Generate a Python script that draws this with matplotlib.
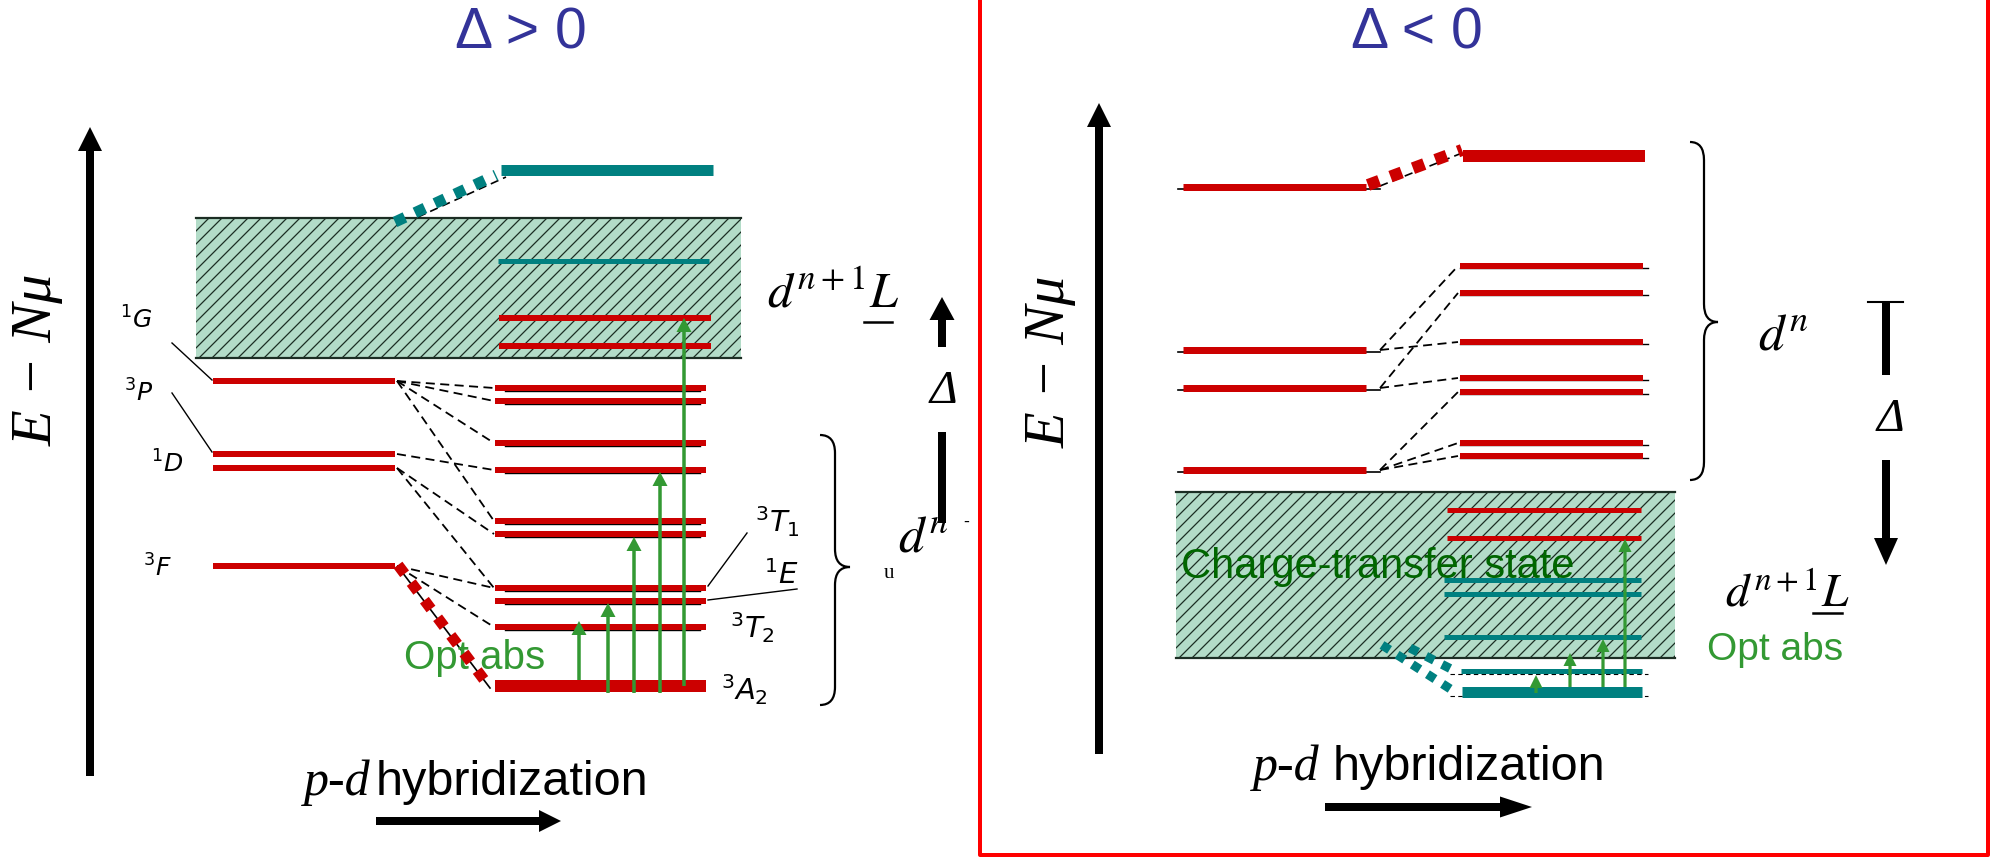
import matplotlib.pyplot as plt
from matplotlib.patches import Rectangle, PathPatch
from matplotlib.path import Path

W, H = 1993, 857

red = '#cc0000'
teal = '#008080'
green = '#339933'
darkgreen = '#006600'
navy = '#333399'
boxfill = '#b3dcc8'
hatchcol = '#1c2e24'

# ---------- left panel (Delta > 0) ----------
term_names = [r'$^{1}G$', r'$^{3}P$', r'$^{1}D$', r'$^{3}F$']
term_y = [381, 454, 468, 566]
term_label_xy = [(136, 320), (139, 393), (167, 464), (157, 568)]
crystal_y = [388, 401, 443, 470, 521, 534, 588, 601, 627]
ground_y = 686
ct_red_y = [318, 346]
ct_teal_y = [261]
top_teal_y = 170
crystal_names = [r'$^{3}T_{1}$', r'$^{1}E$', r'$^{3}T_{2}$', r'$^{3}A_{2}$']
crystal_label_xy = [(777, 522), (781, 575), (752, 628), (744, 690)]
left_links = [(0, 388), (0, 401), (0, 443), (0, 521), (1, 470), (2, 534), (2, 588), (3, 588), (3, 627)]
opt_x_left = [579, 608, 634, 660, 684]
opt_top_left = [621, 603, 537, 472, 318]
opt_base_left = [680, 693, 693, 693, 686]

# ---------- right panel (Delta < 0) ----------
dn_left_y = [187, 350, 388, 470]
dn_right_y = [266, 293, 342, 378, 392, 443, 456]
dn_top_y = 156
r_ct_red_y = [510, 538]
r_ct_teal_y = [580, 594, 637]
r_low_teal_y = [671, 692]
right_links = [(1, 266), (1, 342), (2, 293), (2, 378), (3, 392), (3, 443), (3, 456)]
opt_x_right = [1536, 1570, 1603, 1625]
opt_top_right = [675, 653, 639, 539]
opt_base_right = [693, 687, 687, 687]

PX = 0.72  # pixels -> points at dpi 100

fig = plt.figure(figsize=(W / 100, H / 100), dpi=100)
ax = fig.add_axes([0, 0, 1, 1])
ax.set_xlim(0, W)
ax.set_ylim(H, 0)
ax.axis('off')


def bar(x0, x1, y, lw, color, z=3):
    ax.plot([x0, x1], [y, y], color=color, lw=lw * PX, solid_capstyle='butt', zorder=z)


def dashed(x0, y0, x1, y1):
    ax.plot([x0, x1], [y0, y1], color='black', lw=1.3, ls=(0, (5, 3)), zorder=2)


def dotted(x0, y0, x1, y1, lw, color):
    ax.plot([x0, x1], [y0, y1], color=color, lw=lw * PX, ls=(0, (1, 1)),
            dash_capstyle='butt', zorder=4)


def hatched_box(x0, x1, y0, y1, step=13):
    rect = Rectangle((x0, y0), x1 - x0, y1 - y0, facecolor=boxfill, lw=0, zorder=1)
    ax.add_patch(rect)
    h = y1 - y0
    for s in range(int(x0 - h), int(x1) + step, step):
        ln, = ax.plot([s, s + h], [y1, y0], color=hatchcol, lw=0.9, zorder=1.2)
        ln.set_clip_path(rect)
    ax.plot([x0, x1], [y0, y0], color=hatchcol, lw=1.6, zorder=1.5)
    ax.plot([x0, x1], [y1, y1], color=hatchcol, lw=1.6, zorder=1.5)


def brace(x0, ytop, ybot, ytip, w):
    xm = x0 + w / 2
    r = 18
    verts = [(x0, ytop), (xm, ytop), (xm, ytop + r), (xm, ytip - r),
             (xm, ytip), (x0 + w, ytip), (xm, ytip), (xm, ytip + r),
             (xm, ybot - r), (xm, ybot), (x0, ybot)]
    codes = [Path.MOVETO, Path.CURVE3, Path.CURVE3, Path.LINETO,
             Path.CURVE3, Path.CURVE3, Path.CURVE3, Path.CURVE3,
             Path.LINETO, Path.CURVE3, Path.CURVE3]
    ax.add_patch(PathPatch(Path(verts, codes), fill=False, lw=1.6, ec='black', zorder=3))


def big_arrow(x0, y0, x1, y1, hl=24, hw=24, w=8, color='black'):
    ax.arrow(x0, y0, x1 - x0, y1 - y0, width=w, head_width=hw, head_length=hl,
             length_includes_head=True, fc=color, ec=color, lw=0, zorder=5)


# ===== left panel =====
ax.text(521, 33, 'Δ > 0', fontsize=41, color=navy, family='Liberation Sans',
        ha='center', va='center')
big_arrow(90, 776, 90, 127)
ax.text(38, 360, 'E − Nμ', fontsize=42, family='Liberation Serif', style='italic',
        rotation=90, ha='center', va='center')

hatched_box(196, 741, 218, 358)

# top teal level and its dotted link into the band
bar(501, 713, top_teal_y, 11, teal)
ax.plot([418, 506], [217, 177], color='black', lw=1.2, ls=(0, (5, 3)), zorder=2)
dotted(395, 222, 496, 175, 11, teal)
for y in ct_teal_y:
    bar(498, 709, y, 5, teal)
for y in ct_red_y:
    bar(499, 711, y, 6, red)

# free ion terms
for name, y, (lx, ly) in zip(term_names, term_y, term_label_xy):
    bar(213, 395, y, 6, red)
    ax.text(lx, ly, name, fontsize=18, math_fontfamily='dejavusans',
            ha='center', va='center')
ax.plot([172, 212], [343, 380], color='black', lw=1.0)
ax.plot([172, 212], [393, 452], color='black', lw=1.0)

# crystal field levels
for y in crystal_y:
    ax.plot([505, 700], [y + 3, y + 3], color='black', lw=1.0, zorder=2)
    bar(495, 706, y, 6, red)
bar(495, 706, ground_y, 12, red)
for i, y in left_links:
    dashed(397, term_y[i], 494, y)
ax.plot([399, 490], [568, 688], color='black', lw=1.2, zorder=2)
dotted(398, 565, 488, 685, 11, red)

for name, (lx, ly) in zip(crystal_names, crystal_label_xy):
    ax.text(lx, ly, name, fontsize=21, math_fontfamily='dejavusans',
            ha='center', va='center')
ax.plot([747, 708], [533, 586], color='black', lw=1.0)
ax.plot([797, 708], [589, 600], color='black', lw=1.0)

# optical absorption
for x, yb, yt in zip(opt_x_left, opt_base_left, opt_top_left):
    big_arrow(x, yb, x, yt, hl=14, hw=15, w=3.5, color=green)
ax.text(475, 658, 'Opt abs', fontsize=29, color=green, family='Liberation Sans',
        ha='center', va='center', zorder=3.5)

# d^n / d^{n+1}L labels and Delta
brace(820, 435, 705, 567, 30)
ax.text(898, 537, r'$d^{n}$', fontsize=37, math_fontfamily='stix', ha='left', va='center')
ax.text(889, 574, 'u', fontsize=15, family='Liberation Serif', ha='center', va='center')
ax.text(966, 522, '-', fontsize=13, family='Liberation Sans', ha='center', va='center')
ax.text(833, 293, r'$d^{n+1}L$', fontsize=36, math_fontfamily='stix', ha='center', va='center')
ax.plot([864, 892], [322, 322], color='black', lw=1.8)
big_arrow(942, 347, 942, 297, hl=23, hw=25, w=8)
ax.text(943, 392, 'Δ', fontsize=34, family='Liberation Serif', style='italic',
        ha='center', va='center')
ax.plot([942, 942], [432, 523], color='black', lw=8 * PX, solid_capstyle='butt', zorder=5)

ax.text(304, 795, 'p-d', fontsize=36, family='Liberation Serif', style='italic',
        ha='left', va='baseline')
ax.text(376, 795, 'hybridization', fontsize=35, family='Liberation Sans',
        ha='left', va='baseline')
big_arrow(376, 821, 561, 821, hl=22, hw=22, w=8)

# ===== right panel =====
ax.plot([980, 980, 1988, 1988], [0, 855, 855, 0], color='#ff0000', lw=4 * PX, zorder=6)
ax.text(1417, 33, 'Δ < 0', fontsize=41, color=navy, family='Liberation Sans',
        ha='center', va='center')
big_arrow(1099, 754, 1099, 103)
ax.text(1051, 362, 'E − Nμ', fontsize=42, family='Liberation Serif', style='italic',
        rotation=90, ha='center', va='center')

hatched_box(1176, 1675, 492, 658)

for y in dn_left_y:
    ax.plot([1178, 1380], [y + 2, y + 2], color='black', lw=1.2, zorder=2)
    bar(1183, 1366, y, 7, red)
bar(1463, 1645, dn_top_y, 12, red)
ax.plot([1380, 1462], [186, 153], color='black', lw=1.2, ls=(0, (5, 3)), zorder=2)
dotted(1368, 185, 1462, 150, 12, red)
for y in dn_right_y:
    ax.plot([1460, 1648], [y + 2, y + 2], color='black', lw=1.0, zorder=2)
    bar(1460, 1643, y, 6, red)
for i, y in right_links:
    dashed(1380, dn_left_y[i], 1458, y)

for y in r_ct_red_y:
    bar(1447, 1641, y, 5, red)
for y in r_ct_teal_y:
    bar(1444, 1641, y, 5, teal)
bar(1461, 1642, r_low_teal_y[0], 5, teal)
bar(1462, 1642, r_low_teal_y[1], 11, teal)
ax.plot([1450, 1648], [674, 674], color='black', lw=0.8, ls=(0, (4, 3)), zorder=2)
ax.plot([1450, 1648], [696, 696], color='black', lw=0.8, ls=(0, (4, 3)), zorder=2)
dotted(1382, 645, 1452, 690, 9, teal)
dotted(1410, 648, 1455, 671, 9, teal)

for x, yb, yt in zip(opt_x_right, opt_base_right, opt_top_right):
    big_arrow(x, yb, x, yt, hl=13, hw=13, w=3.2, color=green)

ax.text(1181, 567, 'Charge-transfer state', fontsize=30, color=darkgreen,
        family='Liberation Sans', ha='left', va='center', zorder=3.5)
ax.text(1775, 650, 'Opt abs', fontsize=28, color=green, family='Liberation Sans',
        ha='center', va='center')

brace(1690, 142, 480, 322, 28)
ax.text(1758, 335, r'$d^{n}$', fontsize=37, math_fontfamily='stix', ha='left', va='center')
ax.text(1787, 594, r'$d^{n+1}L$', fontsize=34, math_fontfamily='stix', ha='center', va='center')
ax.plot([1813, 1842], [613, 613], color='black', lw=1.8)

ax.plot([1868, 1903], [302, 302], color='black', lw=1.5)
ax.plot([1886, 1886], [302, 375], color='black', lw=8 * PX, solid_capstyle='butt')
ax.text(1890, 420, 'Δ', fontsize=34, family='Liberation Serif', style='italic',
        ha='center', va='center')
big_arrow(1886, 460, 1886, 565, hl=27, hw=24, w=8)

ax.text(1253, 780, 'p-d', fontsize=36, family='Liberation Serif', style='italic',
        ha='left', va='baseline')
ax.text(1333, 780, 'hybridization', fontsize=35, family='Liberation Sans',
        ha='left', va='baseline')
big_arrow(1325, 807, 1532, 807, hl=32, hw=21, w=8)

fig.savefig('out.png', dpi=100, facecolor='white')
